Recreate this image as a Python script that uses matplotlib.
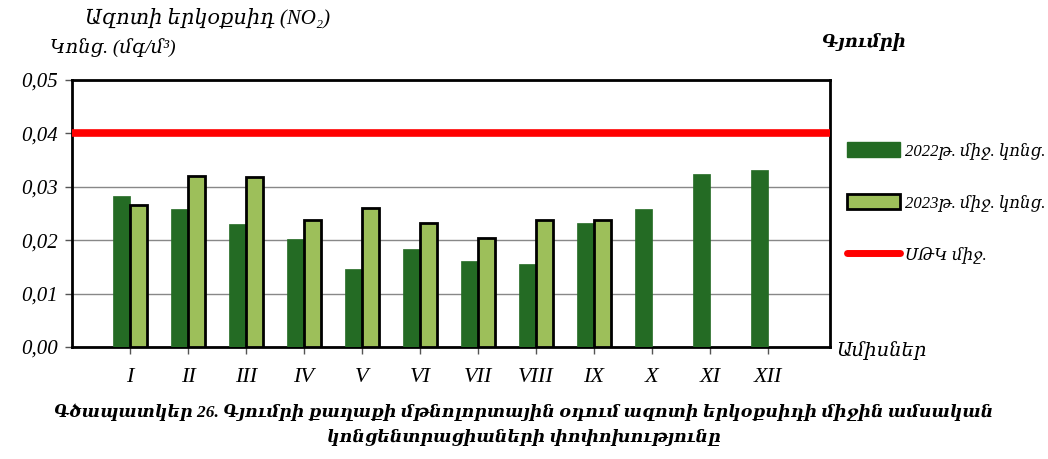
import matplotlib
matplotlib.use("Agg")
import matplotlib.pyplot as plt
import numpy as np
from matplotlib.patches import Patch
from matplotlib.lines import Line2D

plt.rcParams['font.family'] = ['Liberation Serif', 'DejaVu Serif', 'DejaVu Sans']
plt.rcParams['font.style'] = 'italic'

months = ["I", "II", "III", "IV", "V", "VI", "VII", "VIII", "IX", "X", "XI", "XII"]
conc_2022 = [0.0283, 0.0259, 0.0231, 0.0202, 0.0146, 0.0183, 0.0161, 0.0155, 0.0233, 0.0258, 0.0324, 0.0331]
conc_2023 = [0.0265, 0.0320, 0.0318, 0.0237, 0.0261, 0.0233, 0.0205, 0.0238, 0.0237]
limit = 0.04

dark = "#246b24"
light = "#9dbf5a"

fig = plt.figure(figsize=(10.48, 4.59), dpi=100)
ax = fig.add_axes([72 / 1048, 1 - 347 / 459, (830 - 72) / 1048, (347 - 80) / 459])

x = np.arange(len(months))
w = 0.29
ax.bar(x - w / 2, conc_2022, width=w, color=dark, edgecolor=dark, linewidth=0.5, zorder=3)
ax.bar(np.arange(len(conc_2023)) + w / 2, conc_2023, width=w, color=light,
       edgecolor="black", linewidth=2, zorder=3)
ax.axhline(limit, color="#ff0000", linewidth=5.5, zorder=4)

ax.set_xlim(-1, 12.07)
ax.set_ylim(0, 0.05)
ax.set_yticks([0, 0.01, 0.02, 0.03, 0.04, 0.05])
ax.set_yticklabels([f"{v:.2f}".replace(".", ",") for v in ax.get_yticks()], fontsize=15)
ax.set_xticks(x)
ax.set_xticklabels(months, fontsize=16)
ax.tick_params(axis="x", length=5, width=1, color="#555555", pad=10)
ax.tick_params(axis="y", length=5, width=1, color="#555555", pad=5)
ax.grid(axis="y", color="#888888", linewidth=1, zorder=0)
for s in ax.spines.values():
    s.set_linewidth(2)
    s.set_color("black")

# titles and axis captions
fig.text(85 / 1048, 1 - 18 / 459, "Ազոտի երկօքսիդ (NO₂)", fontsize=15, va="center")
fig.text(50 / 1048, 1 - 48 / 459, "Կոնց. (մգ/մ³)", fontsize=14, va="center")
fig.text(822 / 1048, 1 - 42 / 459, "Գյումրի", fontsize=13, weight="bold", va="center")
fig.text(836 / 1048, 1 - 351 / 459, "Ամիսներ", fontsize=14, va="center")
fig.text(0.5, 1 - 412 / 459,
         "Գծապատկեր 26. Գյումրի քաղաքի մթնոլորտային օդում ազոտի երկօքսիդի միջին ամսական",
         fontsize=12.5, weight="bold", ha="center", va="center")
fig.text(0.5, 1 - 437 / 459, "կոնցենտրացիաների փոփոխությունը",
         fontsize=12.5, weight="bold", ha="center", va="center")

handles = [
    Patch(facecolor=dark, edgecolor=dark),
    Patch(facecolor=light, edgecolor="black", linewidth=2),
    Line2D([0], [0], color="#ff0000", linewidth=5, solid_capstyle="round"),
]
labels = ["2022թ. միջ. կոնց.", "2023թ. միջ. կոնց.", "ՍԹԿ միջ."]
fig.legend(handles, labels, loc="upper left", bbox_to_anchor=(840 / 1048, 1 - 135 / 459),
           frameon=False, fontsize=12, handlelength=3.2, handleheight=1.0,
           labelspacing=2.1, handletextpad=0.3, borderaxespad=0)

fig.savefig("out.png", dpi=100)
